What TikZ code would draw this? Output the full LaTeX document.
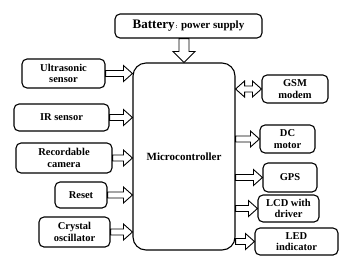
\documentclass[tikz,border=0pt]{standalone}
\usepackage{fontspec}
\setmainfont{Liberation Serif}
\usetikzlibrary{calc}

% block arrows (outlined, white inside)
\newcommand{\harrow}[2]{%
  \draw[blockarrow] let \p1=(#1), \p2=(#2) in
    (\x1,\y1+3pt) -- (\x2-9pt,\y1+3pt) -- (\x2-9pt,\y1+8pt) -- (\x2,\y1)
    -- (\x2-9pt,\y1-8pt) -- (\x2-9pt,\y1-3pt) -- (\x1,\y1-3pt) -- cycle;}
\newcommand{\hdarrow}[2]{%
  \draw[blockarrow] let \p1=(#1), \p2=(#2) in
    (\x1,\y1) -- (\x1+9pt,\y1+8pt) -- (\x1+9pt,\y1+3pt) -- (\x2-9pt,\y1+3pt)
    -- (\x2-9pt,\y1+8pt) -- (\x2,\y1) -- (\x2-9pt,\y1-8pt) -- (\x2-9pt,\y1-3pt)
    -- (\x1+9pt,\y1-3pt) -- (\x1+9pt,\y1-8pt) -- cycle;}
\newcommand{\varrow}[2]{%
  \draw[blockarrow] let \p1=(#1), \p2=(#2) in
    (\x1-5pt,\y1) -- (\x1-5pt,\y2+11pt) -- (\x1-11pt,\y2+11pt) -- (\x1,\y2)
    -- (\x1+11pt,\y2+11pt) -- (\x1+5pt,\y2+11pt) -- (\x1+5pt,\y1) -- cycle;}

\tikzset{
  block/.style={draw,line width=1.1pt,rounded corners=5pt,align=center,
    font=\bfseries\fontsize{10.5}{11.5}\selectfont,inner sep=1pt},
  blockarrow/.style={draw,fill=white,line width=0.9pt,line join=miter}
}

\begin{document}
\begin{tikzpicture}[x=1pt,y=-1pt]
  \useasboundingbox (0,0) rectangle (355,266);
  % centre
  \node[block,rounded corners=13pt,minimum width=102pt,minimum height=187pt,
    font=\bfseries\fontsize{11}{12}\selectfont] (mc) at (184,156.5) {Microcontroller};
  \node[block,minimum width=147pt,minimum height=24pt] (bat) at (188.5,26)
    {{\fontsize{13}{14}\selectfont Battery}{\fontsize{6}{7}\selectfont\,:} {\fontsize{11}{12}\selectfont power supply}};
  % inputs
  \node[block,minimum width=83pt,minimum height=29pt] (ultra) at (63.5,73.5) {Ultrasonic\\sensor};
  \node[block,minimum width=95pt,minimum height=27pt] (ir) at (61.5,117.5) {IR sensor};
  \node[block,minimum width=96pt,minimum height=30pt] (cam) at (64,158) {Recordable\\camera};
  \node[block,minimum width=52pt,minimum height=26pt] (reset) at (81,195) {Reset};
  \node[block,minimum width=71pt,minimum height=30pt] (xtal) at (74.5,232) {Crystal\\oscillator};
  % outputs
  \node[block,minimum width=66pt,minimum height=28pt] (gsm) at (295,89) {GSM\\modem};
  \node[block,minimum width=55pt,minimum height=28pt] (dc) at (287.5,139) {DC\\motor};
  \node[block,minimum width=54pt,minimum height=29pt] (gps) at (290,177.5) {GPS};
  \node[block,minimum width=61pt,minimum height=27pt] (lcd) at (288.5,208.5) {LCD with\\driver};
  \node[block,minimum width=83pt,minimum height=27pt] (led) at (296.5,241.5) {LED\\indicator};
  % arrows
  \varrow{bat.south -| mc.north}{mc.north}
  \harrow{ultra.east}{ultra.east -| mc.west}
  \harrow{ir.east}{ir.east -| mc.west}
  \harrow{cam.east}{cam.east -| mc.west}
  \harrow{reset.east}{reset.east -| mc.west}
  \harrow{xtal.east}{xtal.east -| mc.west}
  \hdarrow{gsm.west -| mc.east}{gsm.west}
  \harrow{dc.west -| mc.east}{dc.west}
  \harrow{gps.west -| mc.east}{gps.west}
  \harrow{lcd.west -| mc.east}{lcd.west}
  \harrow{led.west -| mc.east}{led.west}
\end{tikzpicture}
\end{document}
